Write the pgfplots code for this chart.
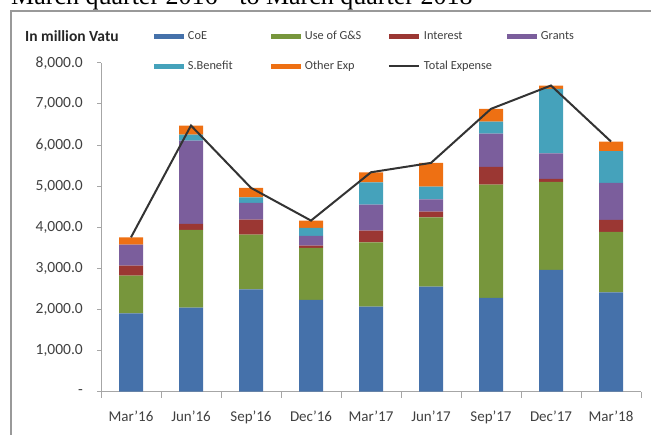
\documentclass[border=0pt]{standalone}
\usepackage{fontspec}
\setmainfont{Carlito}
\newfontfamily\titlefont{Liberation Serif}
\usepackage{pgfplots}
\pgfplotsset{compat=1.18}
\usepackage{pgfplotstable}
\definecolor{cBlue}{HTML}{4571AA}
\definecolor{cGreen}{HTML}{77963C}
\definecolor{cRed}{HTML}{9B3733}
\definecolor{cPurple}{HTML}{7B5E9C}
\definecolor{cCyan}{HTML}{45A2BB}
\definecolor{cOrange}{HTML}{EE7013}
\definecolor{cText}{HTML}{404040}
\definecolor{cAxis}{HTML}{A6A6A6}
\pgfplotstableread{
x coe gs int grants sb other total
0 1905 917 244 511 0 177 3754
1 2044 1890 146 2027 146 219 6472
2 2489 1331 365 406 137 228 4956
3 2231 1265 56 236 195 178 4161
4 2068 1565 284 633 543 243 5336
5 2555 1686 139 299 309 576 5564
6 2280 2756 431 810 292 309 6878
7 2961 2141 73 623 1567 80 7445
8 2416 1469 292 900 770 236 6083
}\datatable
\pgfplotsset{
  mybar/.style={fill=#1, draw=none,
    legend image code/.code={\fill[#1] (0bp,-2.5bp) rectangle (30bp,2.5bp);}},
}
\begin{document}
\begin{tikzpicture}
\useasboundingbox (0,0) rectangle (651bp,435bp);
\draw[black!40, line width=1.5bp] (11bp,-20bp) -- (11bp,424bp) -- (680bp,424bp);
\node[anchor=base west, inner sep=0pt, font=\titlefont\fontsize{26bp}{30bp}\selectfont] at (11bp,430bp) {March quarter 2016 - to March quarter 2018};
\node[anchor=west, inner sep=0pt, font=\bfseries\fontsize{15.5bp}{18bp}\selectfont, text=black!85] at (25bp,399.3bp) {In million Vatu};
\begin{axis}[
  at={(101bp,43.3bp)}, anchor=south west,
  scale only axis, width=540bp, height=329bp,
  ybar stacked, bar width=24bp,
  xmin=-0.5, xmax=8.5, ymin=0, ymax=8000,
  axis x line*=bottom, axis y line*=left,
  axis line style={draw=cAxis, line width=0.8bp},
  every tick/.style={draw=cAxis, line width=0.8bp},
  tick align=outside,
  major tick length=4bp, minor tick length=6bp,
  xtick={0,...,8},
  xticklabels={Mar'16,Jun'16,Sep'16,Dec'16,Mar'17,Jun'17,Sep'17,Dec'17,Mar'18},
  major x tick style={draw=none},
  minor xtick={-0.5,0.5,...,8.5},
  ytick={0,1000,...,8000},
  yticklabels={-\hspace{6bp},{1,000.0},{2,000.0},{3,000.0},{4,000.0},{5,000.0},{6,000.0},{7,000.0},{8,000.0}},
  yticklabel style={inner sep=0pt, anchor=east, xshift=-14bp, font=\fontsize{15.5bp}{18bp}\selectfont, text=cText},
  xticklabel style={inner sep=0pt, anchor=base, yshift=-25.7bp, font=\fontsize{15bp}{18bp}\selectfont, text=cText},
  legend columns=4,
  legend cell align=left,
  legend style={at={(0.0981,1.0964)}, anchor=north west, draw=none, fill=none,
    inner sep=0pt, outer sep=0pt, row sep=17.5bp, column sep=0pt,
    nodes={inner sep=0pt, text height=9bp, text depth=3bp, font=\fontsize{12.3bp}{14bp}\selectfont, text=cText},
    /tikz/every odd column/.style={column sep=4bp}},
]
\addplot[mybar=cBlue] table[x=x,y=coe]{\datatable};
\addlegendentry{\makebox[83bp][l]{CoE}}
\addplot[mybar=cGreen] table[x=x,y=gs]{\datatable};
\addlegendentry{\makebox[83bp][l]{Use of G\&S}}
\addplot[mybar=cRed] table[x=x,y=int]{\datatable};
\addlegendentry{\makebox[83bp][l]{Interest}}
\addplot[mybar=cPurple] table[x=x,y=grants]{\datatable};
\addlegendentry{\makebox[83bp][l]{Grants}}
\addplot[mybar=cCyan] table[x=x,y=sb]{\datatable};
\addlegendentry{\makebox[83bp][l]{S.Benefit}}
\addplot[mybar=cOrange] table[x=x,y=other]{\datatable};
\addlegendentry{\makebox[83bp][l]{Other Exp}}
\addlegendimage{legend image code/.code={\draw[line width=2bp, black!80] (0bp,0bp) -- (30bp,0bp);}}
\addlegendentry{\makebox[83bp][l]{Total Expense}}
\end{axis}
\begin{axis}[
  at={(101bp,43.3bp)}, anchor=south west,
  scale only axis, width=540bp, height=329bp,
  xmin=-0.5, xmax=8.5, ymin=0, ymax=8000, hide axis,
]
\addplot[black!80, line width=2bp, sharp plot, mark=none] table[x=x,y=total]{\datatable};
\end{axis}
\end{tikzpicture}
\end{document}
